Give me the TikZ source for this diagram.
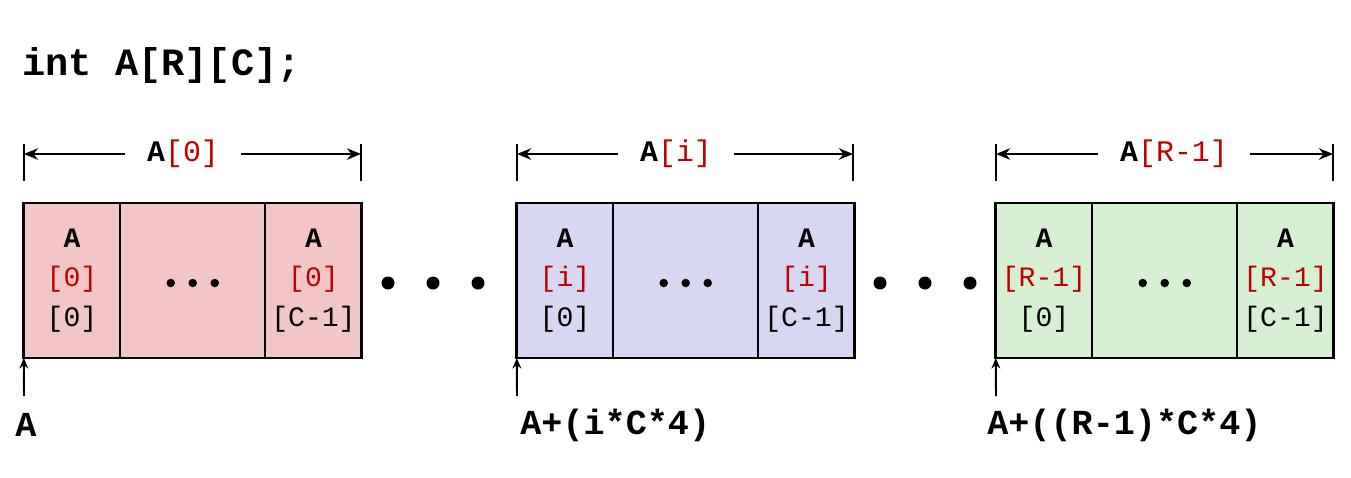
\documentclass[tikz,border=0pt]{standalone}
\usepackage{fontspec}
\setmonofont{Liberation Mono}
\usetikzlibrary{positioning, arrows.meta}
\definecolor{rowred}{HTML}{F2C6C6}
\definecolor{rowblue}{HTML}{D7D7F3}
\definecolor{rowgreen}{HTML}{D7F0D3}
\definecolor{idxred}{HTML}{C00000}
\tikzstyle{cell} = [rectangle, draw=black, line width=1.2pt, outer sep=0pt, inner sep=0pt, minimum height=3.1cm, align=center, font=\ttfamily\fontsize{16}{22.5}\selectfont]
\tikzstyle{edgecell} = [cell, minimum width=1.93cm]
\tikzstyle{midcell} = [cell, minimum width=2.9cm]
\tikzstyle{rowframe} = [line width=1.6pt]
\tikzstyle{rowlabel} = [inner ysep=0pt, inner xsep=0.44cm, font=\ttfamily\fontsize{17}{20}\selectfont]
\tikzstyle{addrlabel} = [inner sep=0pt, font=\ttfamily\bfseries\fontsize{20}{24}\selectfont]
\tikzstyle{arrow} = [line width=1.4pt,-{Stealth[length=8pt,width=6.5pt]}]
\tikzstyle{ptrarrow} = [line width=1.1pt,-{Stealth[length=6pt,width=5pt]}]
\tikzstyle{tick} = [line width=1.4pt]
\newcommand{\idx}[1]{\textcolor{idxred}{#1}}

\begin{document}
\begin{tikzpicture}[x=0.02cm, y=-0.02cm]
                \useasboundingbox (0,0) rectangle (1351,477);

                \node (decl) [addrlabel, anchor=west, font=\ttfamily\bfseries\fontsize{22}{26}\selectfont] at (22,66) {int A[R][C];};

% ---------------------------------------------
% Row 0
% ---------------------------------------------
                \node (r0a) [edgecell, fill=rowred] at (72,280.5) {\textbf{A}\\\idx{[0]}\\{[0]}};
                \node (r0b) [midcell, fill=rowred, right=0pt of r0a] {};
                \node (r0c) [edgecell, fill=rowred, right=0pt of r0b] {\textbf{A}\\\idx{[0]}\\{[C-1]}};
                \draw [rowframe] (r0a.north west) rectangle (r0c.south east);

% ---------------------------------------------
% Row i
% ---------------------------------------------
                \node (ria) [edgecell, fill=rowblue] at (565,280.5) {\textbf{A}\\\idx{[i]}\\{[0]}};
                \node (rib) [midcell, fill=rowblue, right=0pt of ria] {};
                \node (ric) [edgecell, fill=rowblue, right=0pt of rib] {\textbf{A}\\\idx{[i]}\\{[C-1]}};
                \draw [rowframe] (ria.north west) rectangle (ric.south east);

% ---------------------------------------------
% Row R-1
% ---------------------------------------------
                \node (rla) [edgecell, fill=rowgreen] at (1044,280.5) {\textbf{A}\\\idx{[R-1]}\\{[0]}};
                \node (rlb) [midcell, fill=rowgreen, right=0pt of rla] {};
                \node (rlc) [edgecell, fill=rowgreen, right=0pt of rlb] {\textbf{A}\\\idx{[R-1]}\\{[C-1]}};
                \draw [rowframe] (rla.north west) rectangle (rlc.south east);

                % dots inside the middle cells
                \foreach \r in {r0b, rib, rlb} {
                    \foreach \dx in {-0.44, 0, 0.44}
                        \fill ([xshift=\dx cm, yshift=-0.05cm]\r.center) circle (0.085cm);
                }

                % dots between the rows
                \foreach \cx in {388, 433, 478, 880, 925, 970}
                    \fill (\cx,283) circle (6.5);

% ---------------------------------------------
% Row extents
% ---------------------------------------------
                \node (lab0) [rowlabel] at (183,154) {\textbf{A}\idx{[0]}};
                \node (labi) [rowlabel] at (676,154) {\textbf{A}\idx{[i]}};
                \node (labl) [rowlabel] at (1174,154) {\textbf{A}\idx{[R-1]}};

                \coordinate (e0l) at (24,154);    \coordinate (e0r) at (361,154);
                \coordinate (eil) at (517,154);   \coordinate (eir) at (853,154);
                \coordinate (ell) at (996,154);   \coordinate (elr) at (1333,154);

                \foreach \e in {e0l, e0r, eil, eir, ell, elr}
                    \draw [tick] ([yshift=0.2cm]\e) -- ([yshift=-0.54cm]\e);

                \draw [arrow] (lab0) -- (e0l);
                \draw [arrow] (lab0) -- (e0r);
                \draw [arrow] (labi) -- (eil);
                \draw [arrow] (labi) -- (eir);
                \draw [arrow] (labl) -- (ell);
                \draw [arrow] (labl) -- (elr);

% ---------------------------------------------
% Start addresses
% ---------------------------------------------
                \node (addr0) [addrlabel] at (26,425) {A};
                \node (addri) [addrlabel, anchor=west] at (520,425) {A+(i*C*4)};
                \node (addrl) [addrlabel, anchor=west] at (987,425) {A+((R-1)*C*4)};

                \coordinate (p0) at (24,396);
                \coordinate (pi) at (517,396);
                \coordinate (pl) at (996,396);

                \draw [ptrarrow] (p0) -- (r0a.south west);
                \draw [ptrarrow] (pi) -- (ria.south west);
                \draw [ptrarrow] (pl) -- (rla.south west);

\end{tikzpicture}
\end{document}
